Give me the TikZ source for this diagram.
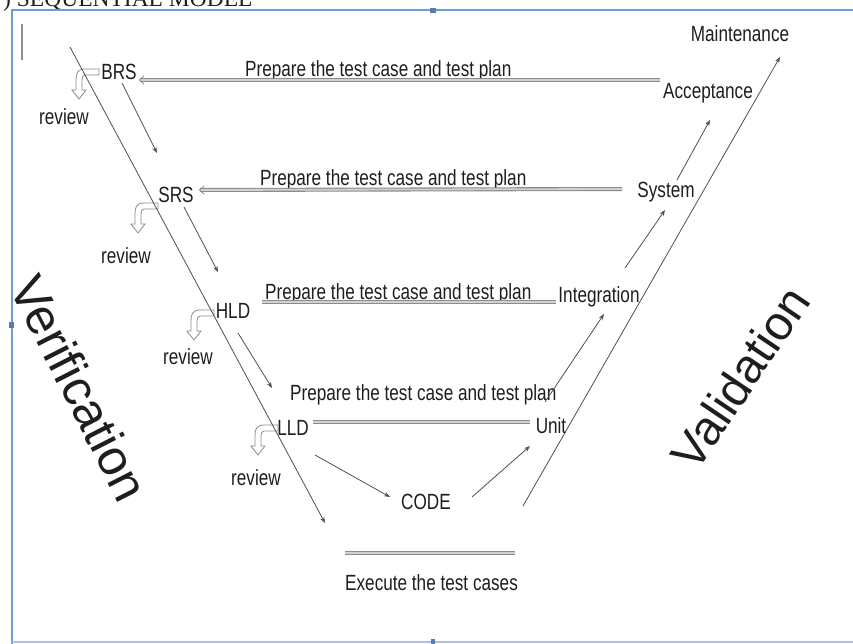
\documentclass[tikz,border=0pt]{standalone}
\usepackage{fontspec}
\setmainfont[FakeStretch=0.78]{Liberation Sans}
\newfontfamily\bigsans{Liberation Sans}
\newfontfamily\headserif{Liberation Serif}
\usetikzlibrary{arrows.meta}
\definecolor{frameblue}{HTML}{6F9BD8}
\definecolor{ink}{HTML}{1E1E1E}
\definecolor{lineink}{HTML}{505050}
\definecolor{cursorgray}{HTML}{9A8E86}
\tikzset{
  lbl/.style={font=\fontsize{22}{24}\selectfont, text=ink, inner sep=0pt},
  arr/.style={draw=lineink, line width=0.8pt, -{Stealth[length=6pt,width=4.5pt]}},
  dbl/.style={draw=gray!90, double=gray!35, line width=1.1pt, double distance=1.8pt},
  revarrow/.pic={
    \draw[gray!90, line width=0.8pt]
      (0,-3) -- (-14,-3) .. controls (-22,-3) and (-23,2) .. (-23,8)
      -- (-23,18) -- (-27,18) -- (-20,27) -- (-13,18) -- (-17,18) -- (-17,8)
      .. controls (-17,5) and (-16,3) .. (-14,3) -- (0,3) -- cycle;
  }
}
\begin{document}
\begin{tikzpicture}[x=1pt,y=-1pt]
\useasboundingbox (0,0) rectangle (853,644);
\clip (0,0) rectangle (853,644);
\fill[white] (0,0) rectangle (853,644);

% header (cut off)
\node[anchor=base west, font=\headserif\fontsize{23.5}{26}\selectfont, inner sep=0pt, text=ink] (head) at (3,7) {) SEQUENTIAL MODEL};

% frame
\draw[frameblue, line width=2pt] (853,10.5) -- (11.5,10.5) -- (11.5,644);
\draw[frameblue!60, line width=1.5pt] (11.5,642) -- (853,642);
\fill[frameblue!80!black] (430,8) rectangle (436,13);
\fill[frameblue!80!black] (9,322) rectangle (14,328);
\fill[frameblue!80!black] (431,639) rectangle (435,644);
\draw[cursorgray, line width=1.5pt] (22,24) -- (22,60);

% big labels
\node[font=\bigsans\fontsize{50}{50}\selectfont, rotate=-63, text=ink, inner sep=0pt] (verif) at (80,388) {Verification};
\node[font=\bigsans\fontsize{48}{48}\selectfont, rotate=56, text=ink, inner sep=0pt] (valid) at (740,378) {Validation};

% phase labels
\node[lbl] (brs) at (119,72) {BRS};
\node[lbl] (srs) at (176,195) {SRS};
\node[lbl] (hld) at (233,311) {HLD};
\node[lbl] (lld) at (293,428) {LLD};
\node[lbl] (code) at (426,502) {CODE};
\node[lbl] (unit) at (551,426) {Unit};
\node[lbl] (integ) at (599,297) {Integration};
\node[lbl] (sys) at (666,192) {System};
\node[lbl] (acc) at (708,93) {Acceptance};
\node[lbl] (maint) at (740,34) {Maintenance};

% review labels
\node[lbl] (rev1) at (64,117) {review};
\node[lbl] (rev2) at (126,256) {review};
\node[lbl] (rev3) at (188,357) {review};
\node[lbl] (rev4) at (256,478) {review};

% prepare labels
\node[lbl, anchor=base west] (p1) at (245,77) {Prepare the test case and test plan};
\node[lbl, anchor=base west] (p2) at (260,186) {Prepare the test case and test plan};
\node[lbl, anchor=base west] (p3) at (265,299) {Prepare the test case and test plan};
\node[lbl, anchor=base west] (p4) at (290,400) {Prepare the test case and test plan};
\node[lbl, anchor=base west] (exec) at (345,590) {Execute the test cases};

% double lines
\coordinate (d1a) at (140,80);  \coordinate (d1b) at (660,80);
\coordinate (d2a) at (200,190); \coordinate (d2b) at (622,189);
\coordinate (d3a) at (262,302); \coordinate (d3b) at (556,302);
\coordinate (d4a) at (313,422); \coordinate (d4b) at (530,422);
\coordinate (d5a) at (345,553); \coordinate (d5b) at (515,553);
\draw[dbl] (d1a) -- (d1b);
\draw[dbl] (d2a) -- (d2b);
\draw[dbl] (d3a) -- (d3b);
\draw[dbl] (d4a) -- (d4b);
\draw[dbl] (d5a) -- (d5b);
\draw[gray!90, line width=0.8pt] (144,76) -- (139.5,80) -- (144,84);
\draw[gray!90, line width=0.8pt] (204,186) -- (199.5,190) -- (204,194);

% review arrows
\pic at (99,72) {revarrow};
\pic at (158,206) {revarrow};
\pic at (214,313) {revarrow};
\pic at (278,428) {revarrow};

% main diagonals
\coordinate (vtop) at (70,47);   \coordinate (vbot) at (325,523);
\coordinate (wbot) at (523,506); \coordinate (wtop) at (780,57);
\draw[arr] (vtop) -- (vbot);
\draw[arr] (wbot) -- (wtop);

% step arrows
\coordinate (s1a) at (122,83);  \coordinate (s1b) at (157,153);
\coordinate (s2a) at (184,207); \coordinate (s2b) at (218,272);
\coordinate (s3a) at (238,333); \coordinate (s3b) at (272,388);
\coordinate (s4a) at (315,455); \coordinate (s4b) at (390,497);
\coordinate (s5a) at (472,497); \coordinate (s5b) at (530,446);
\coordinate (s6a) at (545,402); \coordinate (s6b) at (604,314);
\coordinate (s7a) at (625,268); \coordinate (s7b) at (665,210);
\coordinate (s8a) at (677,180); \coordinate (s8b) at (710,120);
\foreach \i in {1,...,8} { \draw[arr] (s\i a) -- (s\i b); }
\end{tikzpicture}
\end{document}
